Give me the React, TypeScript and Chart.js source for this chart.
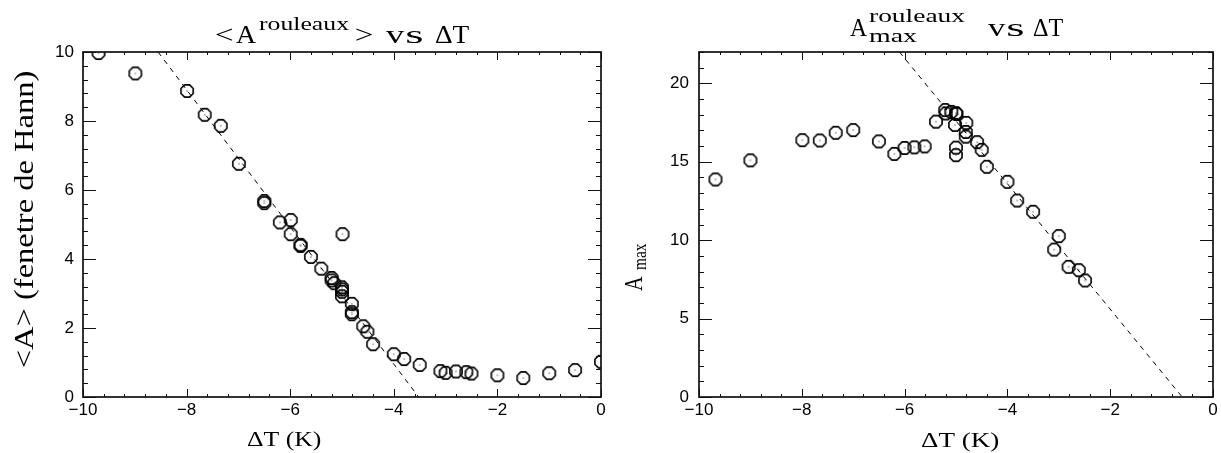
import React, { useEffect, useRef } from "react";
import { Chart, registerables } from "chart.js";

Chart.register(...registerables);

// ---------------- data ----------------
const xTickValues = [-10, -8, -6, -4, -2, 0];
const leftYTickValues = [0, 2, 4, 6, 8, 10];
const rightYTickValues = [0, 5, 10, 15, 20];

// <A> (fenetre de Hann) vs dT
const meanDT = [
  -9.7, -8.99, -7.99, -7.65, -7.34, -6.99, -6.5, -6.5, -6.2, -5.99, -5.99, -5.8, -5.8,
  -5.6, -5.4, -5.2, -5.2, -5.15, -5.0, -5.0, -5.0, -5.0, -4.99, -4.81, -4.81, -4.81,
  -4.59, -4.51, -4.4, -4.0, -3.8, -3.5, -3.1, -3.0, -2.8, -2.6, -2.5, -2.0, -1.5, -1.0,
  -0.5, 0.0,
];
const meanA = [
  9.97, 9.38, 8.87, 8.18, 7.86, 6.76, 5.68, 5.62, 5.06, 5.13, 4.72, 4.41, 4.38,
  4.06, 3.72, 3.45, 3.38, 3.3, 3.18, 3.12, 3.05, 2.92, 4.72, 2.7, 2.46, 2.4,
  2.05, 1.89, 1.53, 1.24, 1.1, 0.93, 0.75, 0.7, 0.74, 0.72, 0.68, 0.63, 0.55, 0.69,
  0.78, 1.02,
];
const meanFitDT = [-8.55, -3.52];
const meanFitA = [10, 0];

// A_max vs dT
const maxDT = [
  -9.68, -9.0, -7.99, -7.65, -7.34, -7.0, -6.5, -6.2, -6.0, -5.81, -5.61, -5.39, -5.21,
  -5.2, -5.09, -5.0, -4.99, -5.02, -5.0, -5.0, -4.8, -4.81, -4.81, -4.59, -4.5, -4.4,
  -4.0, -3.81, -3.5, -3.0, -3.09, -2.81, -2.61, -2.49,
];
const maxA = [
  13.87, 15.09, 16.38, 16.36, 16.85, 17.02, 16.3, 15.5, 15.88, 15.92, 15.98, 17.56, 18.3,
  18.08, 18.18, 18.1, 18.05, 17.35, 15.9, 15.42, 17.48, 16.9, 16.6, 16.25, 15.76, 14.68,
  13.72, 12.53, 11.81, 10.26, 9.4, 8.3, 8.09, 7.43,
];
const maxFitDT = [-6.1, -0.6];
const maxFitA = [22, 0];

// ---------------- helpers ----------------
const SERIF = '"Liberation Serif", "Times New Roman", serif';
const TICK_FONT = { family: '"Liberation Sans", Arial, sans-serif', size: 17 };
const fmt = (v: number) => (v < 0 ? "\u2212" + Math.abs(v) : String(v));

type HSeg = { text: string; size: number; x0: number; x1: number; base: number };
type VSeg = { text: string; size: number; y0: number; y1: number; base: number; hs: number };

function drawHSegs(ctx: CanvasRenderingContext2D, segs: HSeg[]) {
  for (const s of segs) {
    ctx.save();
    ctx.font = `${s.size}px ${SERIF}`;
    ctx.fillStyle = "#000";
    ctx.textAlign = "left";
    ctx.textBaseline = "alphabetic";
    const m = ctx.measureText(s.text);
    const ink = m.actualBoundingBoxLeft + m.actualBoundingBoxRight;
    ctx.translate(s.x0, s.base);
    ctx.scale((s.x1 - s.x0) / ink, 1);
    ctx.fillText(s.text, m.actualBoundingBoxLeft, 0);
    ctx.restore();
  }
}

function drawVSegs(ctx: CanvasRenderingContext2D, segs: VSeg[]) {
  for (const s of segs) {
    ctx.save();
    ctx.font = `${s.size}px ${SERIF}`;
    ctx.fillStyle = "#000";
    ctx.textAlign = "left";
    ctx.textBaseline = "alphabetic";
    const m = ctx.measureText(s.text);
    const ink = m.actualBoundingBoxLeft + m.actualBoundingBoxRight;
    ctx.translate(s.base, s.y0);
    ctx.rotate(-Math.PI / 2);
    ctx.scale((s.y0 - s.y1) / ink, s.hs);
    ctx.fillText(s.text, m.actualBoundingBoxLeft, 0);
    ctx.restore();
  }
}

function makeMarker(): HTMLCanvasElement {
  const c = document.createElement("canvas");
  c.width = 18;
  c.height = 18;
  const g = c.getContext("2d")!;
  g.strokeStyle = "#000";
  g.lineWidth = 1.6;
  g.beginPath();
  const r = 6.6;
  for (let i = 0; i < 8; i++) {
    const a = Math.PI / 8 + (i * Math.PI) / 4;
    const px = 9 + r * Math.cos(a);
    const py = 9 + r * Math.sin(a);
    if (i === 0) g.moveTo(px, py);
    else g.lineTo(px, py);
  }
  g.closePath();
  g.stroke();
  g.fillStyle = "#000";
  g.fillRect(8.5, 8.5, 1, 1);
  return c;
}

function framePlugin(xMinor: number, yMinor: number, xMajors: number[], yMajors: number[]) {
  return {
    id: "frameTicks",
    afterDatasetsDraw(chart: any) {
      const { ctx, chartArea: a } = chart;
      const xs = chart.scales.x;
      const ys = chart.scales.y;
      ctx.save();
      ctx.strokeStyle = "#111";
      ctx.lineWidth = 1;
      ctx.beginPath();
      const nx = Math.round((xs.max - xs.min) / xMinor);
      for (let i = 0; i <= nx; i++) {
        const v = xs.min + i * xMinor;
        const major = xMajors.some((t) => Math.abs(t - v) < 1e-6);
        const px = Math.round(xs.getPixelForValue(v)) + 0.5;
        const L = major ? 8 : 3;
        ctx.moveTo(px, a.bottom);
        ctx.lineTo(px, a.bottom - L);
        ctx.moveTo(px, a.top);
        ctx.lineTo(px, a.top + L);
      }
      const ny = Math.round((ys.max - ys.min) / yMinor);
      for (let i = 0; i <= ny; i++) {
        const v = ys.min + i * yMinor;
        const major = yMajors.some((t) => Math.abs(t - v) < 1e-6);
        const py = Math.round(ys.getPixelForValue(v)) + 0.5;
        const L = major ? 13 : 5;
        ctx.moveTo(a.left, py);
        ctx.lineTo(a.left + L, py);
        ctx.moveTo(a.right, py);
        ctx.lineTo(a.right - L, py);
      }
      ctx.stroke();
      ctx.lineWidth = 1.7;
      ctx.strokeRect(a.left, a.top, a.right - a.left, a.bottom - a.top);
      ctx.restore();
    },
  };
}

function textPlugin(h: HSeg[], v: VSeg[]) {
  return {
    id: "texts",
    afterDraw(chart: any) {
      drawHSegs(chart.ctx, h);
      drawVSegs(chart.ctx, v);
    },
  };
}

function buildConfig(opts: {
  xs: number[];
  ys: number[];
  fx: number[];
  fy: number[];
  yMax: number;
  yTicks: number[];
  yMinor: number;
  yWidth: number;
  padRight: number;
  yPad: number;
  marker: HTMLCanvasElement;
  h: HSeg[];
  v: VSeg[];
}) {
  return {
    type: "scatter" as const,
    data: {
      datasets: [
        {
          data: opts.fx.map((x, i) => ({ x, y: opts.fy[i] })),
          showLine: true,
          borderColor: "#000",
          borderWidth: 1,
          borderDash: [5, 5],
          pointRadius: 0,
          clip: 0,
        },
        {
          data: opts.xs.map((x, i) => ({ x, y: opts.ys[i] })),
          pointStyle: opts.marker,
          pointRadius: 7,
          clip: 0,
        },
      ],
    },
    options: {
      animation: false,
      responsive: false,
      maintainAspectRatio: false,
      events: [],
      layout: { padding: { left: 0, right: opts.padRight, top: 52, bottom: 0 } },
      plugins: {
        legend: { display: false },
        tooltip: { enabled: false },
        title: { display: false },
      },
      scales: {
        x: {
          type: "linear",
          min: -10,
          max: 0,
          grid: { display: false, drawTicks: false },
          border: { display: false },
          afterBuildTicks: (s: any) => {
            s.ticks = xTickValues.map((value) => ({ value }));
          },
          afterFit: (s: any) => {
            s.height = 56;
            s.paddingLeft = 0;
            s.paddingRight = 0;
          },
          ticks: {
            font: TICK_FONT,
            color: "#000",
            padding: 3,
            maxRotation: 0,
            autoSkip: false,
            callback: (v: any) => fmt(Number(v)),
          },
        },
        y: {
          type: "linear",
          min: 0,
          max: opts.yMax,
          grid: { display: false, drawTicks: false },
          border: { display: false },
          afterBuildTicks: (s: any) => {
            s.ticks = opts.yTicks.map((value) => ({ value }));
          },
          afterFit: (s: any) => {
            s.width = opts.yWidth;
            s.paddingTop = 0;
            s.paddingBottom = 0;
          },
          ticks: {
            font: TICK_FONT,
            color: "#000",
            padding: opts.yPad,
            autoSkip: false,
            callback: (v: any) => fmt(Number(v)),
          },
        },
      },
    },
    plugins: [framePlugin(0.4, opts.yMinor, xTickValues, opts.yTicks), textPlugin(opts.h, opts.v)],
  };
}

export default function App() {
  const leftRef = useRef<HTMLCanvasElement>(null);
  const rightRef = useRef<HTMLCanvasElement>(null);

  useEffect(() => {
    const marker = makeMarker();
    const leftCfg = buildConfig({
      xs: meanDT,
      ys: meanA,
      fx: meanFitDT,
      fy: meanFitA,
      yMax: 10,
      yTicks: leftYTickValues,
      yMinor: 0.4,
      yWidth: 83,
      padRight: 14,
      yPad: 9,
      marker,
      h: [
        { text: "<", size: 25, x0: 216, x1: 232, base: 43 },
        { text: "A", size: 25, x0: 236, x1: 256, base: 43 },
        { text: "rouleaux", size: 18, x0: 259, x1: 349, base: 30 },
        { text: ">", size: 25, x0: 356, x1: 372, base: 43 },
        { text: "v", size: 25, x0: 386, x1: 405, base: 43 },
        { text: "s", size: 25, x0: 407, x1: 422, base: 43 },
        { text: "\u0394T", size: 25, x0: 435, x1: 469, base: 43 },
        { text: "\u0394T (K)", size: 22, x0: 247, x1: 321, base: 446 },
      ],
      v: [{ text: "<A> (fenetre de Hann)", size: 24, y0: 367, y1: 72, base: 33, hs: 1.12 }],
    });
    const off = 615;
    const rightCfg = buildConfig({
      xs: maxDT,
      ys: maxA,
      fx: maxFitDT,
      fy: maxFitA,
      yMax: 22,
      yTicks: rightYTickValues,
      yMinor: 1,
      yWidth: 84,
      padRight: 1,
      yPad: 10,
      marker,
      h: [
        { text: "A", size: 25, x0: 850 - off, x1: 867 - off, base: 36 },
        { text: "rouleaux", size: 18, x0: 869 - off, x1: 965 - off, base: 22 },
        { text: "max", size: 18, x0: 869 - off, x1: 917 - off, base: 42 },
        { text: "v", size: 25, x0: 988 - off, x1: 1006 - off, base: 36 },
        { text: "s", size: 25, x0: 1008 - off, x1: 1023 - off, base: 36 },
        { text: "\u0394T", size: 25, x0: 1033 - off, x1: 1063 - off, base: 36 },
        { text: "\u0394T (K)", size: 22, x0: 921 - off, x1: 999 - off, base: 447 },
      ],
      v: [
        { text: "A", size: 23, y0: 291, y1: 276, base: 642 - off, hs: 1.05 },
        { text: "max", size: 17, y0: 270, y1: 243, base: 646 - off, hs: 1.05 },
      ],
    });
    const c1 = new Chart(leftRef.current!, leftCfg as any);
    const c2 = new Chart(rightRef.current!, rightCfg as any);
    return () => {
      c1.destroy();
      c2.destroy();
    };
  }, []);

  return (
    <div
      style={{
        position: "fixed",
        left: 0,
        top: 0,
        width: 1221,
        height: 453,
        background: "#fff",
        overflow: "hidden",
      }}
    >
      <canvas
        ref={leftRef}
        width={615}
        height={453}
        style={{ position: "absolute", left: 0, top: 0, width: 615, height: 453 }}
      />
      <canvas
        ref={rightRef}
        width={606}
        height={453}
        style={{ position: "absolute", left: 615, top: 0, width: 606, height: 453 }}
      />
    </div>
  );
}
